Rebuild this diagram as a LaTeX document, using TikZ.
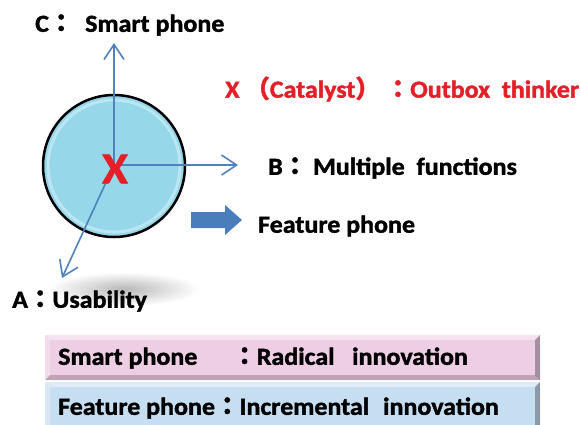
\documentclass[tikz,border=0pt]{standalone}
\usepackage{fontspec}
\setmainfont{Carlito}[BoldFeatures={FakeBold=1.6,FakeStretch=1.06}]
\newfontfamily\cjk{Noto Sans CJK TC}[FakeBold=1.6]
\usetikzlibrary{arrows.meta}
\definecolor{axisblue}{RGB}{79,129,189}
\definecolor{ballblue}{RGB}{150,216,234}
\definecolor{xred}{RGB}{230,30,40}
\definecolor{pinkbox}{RGB}{238,206,228}
\definecolor{bluebox}{RGB}{198,222,242}
\definecolor{blockblue}{RGB}{74,126,187}
\newcommand{\fc}{{\cjk\char"FF1A}}
\newcommand{\flp}{{\cjk\char"FF08}}
\newcommand{\frp}{{\cjk\char"FF09}}
\tikzset{
  lbl/.style={font=\bfseries\fontsize{24.5}{26}\selectfont, inner sep=0pt, anchor=west},
  axis/.style={draw=axisblue, line width=1.6pt, -{Straight Barb[length=15pt,width=20pt,line width=1.6pt]}},
}
\begin{document}
\begin{tikzpicture}[x=1pt,y=-1pt]
\useasboundingbox (0,0) rectangle (580,424);
% shadow under A label
\shade[inner color=black!28, outer color=white] (124,289) ellipse (76 and 17);
% ball
\node[circle, draw=black, line width=2.5pt, fill=ballblue, minimum size=142pt, inner sep=0pt] (ball) at (114,166) {};
\draw[white, opacity=0.35, line width=3pt] (114,166) circle (66);
\coordinate (o) at (114,165);
\coordinate (cend) at (114,43);
\coordinate (bend) at (238,165);
\coordinate (aend) at (62,278);
\draw[axis] (o) -- (cend);
\draw[axis] (o) -- (bend);
\draw[axis] (o) -- (aend);
\node[font=\bfseries\fontsize{44}{44}\selectfont, text=xred, inner sep=0pt] (x) at (115,169) {X};
% labels
\node[lbl] (c) at (35,25) {C\fc\ \ Smart phone};
\node[lbl, text=xred] (cat) at (225,89) {X \flp Catalyst\frp\ \fc Outbox\ \ thinker};
\node[lbl] (b) at (268,168) {B\fc\ Multiple\ \ functions};
\node[lbl] (fp) at (258,226) {Feature phone};
\node[lbl] (a) at (12,301) {A\fc Usability};
% block arrow
\fill[blockblue] (191,212) -- (225,212) -- (225,205) -- (242,220) -- (225,235) -- (225,228) -- (191,228) -- cycle;
% bottom boxes
\fill[pinkbox] (45,335) rectangle (540,380);
\fill[white, opacity=0.45] (45,335) -- (540,335) -- (535,340) -- (50,340) -- cycle;
\fill[black, opacity=0.3] (540,335) -- (540,380) -- (535,375) -- (535,340) -- cycle;
\fill[black, opacity=0.2] (45,380) -- (540,380) -- (535,375) -- (50,375) -- cycle;
\fill[white, opacity=0.3] (45,335) -- (50,340) -- (50,375) -- (45,380) -- cycle;
\fill[bluebox] (45,382) rectangle (540,430);
\fill[white, opacity=0.45] (45,382) -- (540,382) -- (535,387) -- (50,387) -- cycle;
\fill[black, opacity=0.3] (540,382) -- (540,430) -- (535,425) -- (535,387) -- cycle;
\fill[white, opacity=0.3] (45,382) -- (50,387) -- (50,430) -- (45,430) -- cycle;
\node[lbl] (sp) at (58,358) {Smart phone\hspace{35pt}\fc Radical\ \ \ innovation};
\node[lbl] (fi) at (58,408) {Feature phone\fc Incremental\hspace{14pt}innovation};
\end{tikzpicture}
\end{document}
